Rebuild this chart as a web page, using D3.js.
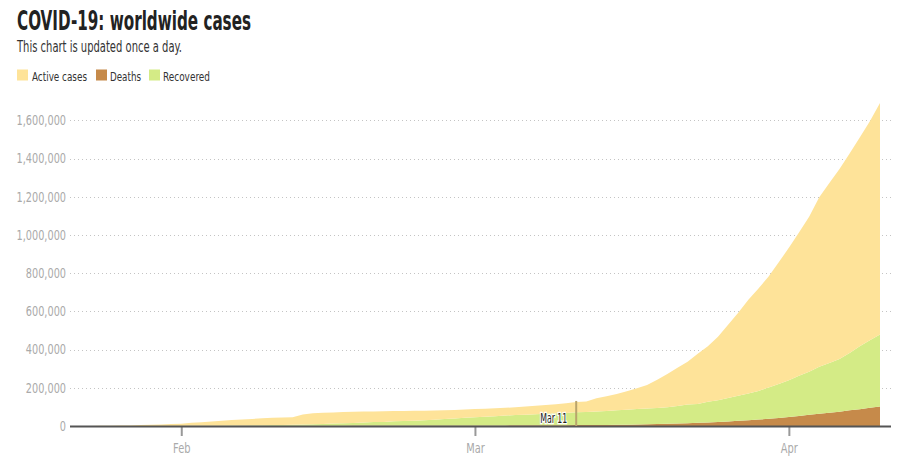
<!DOCTYPE html>
<html>
<head>
<meta charset="utf-8">
<script src="https://cdn.jsdelivr.net/npm/d3@7"></script>
<style>
  html, body { margin: 0; padding: 0; background: #fff; }
  svg { display: block; }
  .narrow { font-family: "Liberation Sans Narrow", "DejaVu Sans Condensed", "Roboto", sans-serif; }
</style>
</head>
<body>
<svg id="chart" width="910" height="464"></svg>
<script>
// ---------- data (JHU global totals, daily) ----------
const startDate = new Date(2020, 0, 22);
const endDate = new Date(2020, 3, 10);
const dates = d3.timeDay.range(startDate, d3.timeDay.offset(endDate, 1));

const confirmed = [555, 654, 941, 1434, 2118, 2927, 5578, 6166, 8234, 9927,
  12038, 16787, 19887, 23898, 27643, 30802, 34395, 37129, 40160, 42762,
  44802, 45221, 60368, 66885, 69030, 71224, 73258, 75136, 75639, 76197,
  76819, 78572, 78958, 79561, 80406, 81388, 82746, 84112, 86011,
  88369, 90306, 92840, 95120, 97886, 101801, 105847, 109821, 113590, 118620,
  125875, 128352, 145205, 156101, 167454, 181574, 197102, 214821, 242570, 272208,
  304507, 336953, 378235, 418045, 467653, 529591, 593291, 660706, 720117, 782365,
  857487, 932605, 1013157, 1095917, 1197405, 1272115, 1345101, 1426096, 1511104, 1595350,
  1691719];
const deaths = [17, 18, 26, 42, 56, 82, 131, 133, 171, 213,
  259, 362, 426, 492, 564, 634, 719, 806, 906, 1013,
  1113, 1118, 1371, 1523, 1666, 1770, 1868, 2007, 2122, 2247,
  2251, 2458, 2469, 2629, 2708, 2770, 2814, 2872, 2941,
  2996, 3085, 3160, 3254, 3348, 3460, 3558, 3802, 3988, 4262,
  4615, 4720, 5404, 5819, 6440, 7126, 7905, 8733, 9867, 11299,
  12973, 14651, 16505, 18625, 21181, 23970, 27198, 30652, 33925, 37582,
  42107, 46809, 52983, 58787, 64606, 69374, 74565, 81865, 88338, 95455,
  102525];
const recovered = [28, 30, 36, 39, 52, 61, 107, 126, 143, 222,
  284, 472, 623, 852, 1124, 1487, 2011, 2616, 3244, 3946,
  4683, 5150, 6295, 8058, 9395, 10865, 12583, 14352, 16121, 18177,
  18890, 22886, 23394, 25227, 27905, 30384, 33277, 36711, 39782,
  42716, 45602, 48228, 51170, 53796, 55865, 58358, 60694, 62494, 64404,
  67003, 68324, 70251, 72624, 76034, 78088, 80840, 83207, 84854, 87256,
  91499, 97885, 98341, 107890, 113604, 122150, 130915, 139415, 149082, 164566,
  178034, 193177, 210263, 225796, 246152, 260012, 276515, 300054, 328661, 353975,
  376096];

const seriesKeys = ["deaths", "recovered", "active"];
const seriesLabels = {active: "Active cases", deaths: "Deaths", recovered: "Recovered"};
const legendOrder = ["active", "deaths", "recovered"];
const yTicks = [0, 200000, 400000, 600000, 800000, 1000000, 1200000, 1400000, 1600000];
const xTicks = [new Date(2020, 1, 1), new Date(2020, 2, 1), new Date(2020, 3, 1)];
const markerDate = new Date(2020, 2, 11);
const markerLabel = "Mar 11";

const colors = {active: "#fee399", deaths: "#c68a4a", recovered: "#d4eb86"};

const table = dates.map((d, i) => ({
  date: d,
  deaths: deaths[i],
  recovered: recovered[i],
  active: confirmed[i] - deaths[i] - recovered[i]
}));

const FONT = "'Liberation Sans Narrow', 'DejaVu Sans Condensed', sans-serif";
function squeeze(sel, factor) {
  sel.each(function () {
    const w = this.getComputedTextLength();
    d3.select(this).attr("textLength", w * factor).attr("lengthAdjust", "spacingAndGlyphs");
  });
}

// ---------- scales ----------
const svg = d3.select("#chart");
const x = d3.scaleTime().domain([startDate, endDate]).range([80, 880]);
const y = d3.scaleLinear().domain([0, 1600000]).range([426, 120.4]);
const plotLeft = 70, plotRight = 892;

// ---------- title ----------
svg.append("text").attr("class", "narrow")
  .attr("x", 17).attr("y", 29.5)
  .attr("font-size", 27).attr("font-weight", "bold").attr("fill", "#222")
  .attr("textLength", 234).attr("lengthAdjust", "spacingAndGlyphs")
  .text("COVID-19: worldwide cases");
svg.append("text").attr("class", "narrow")
  .attr("x", 17).attr("y", 52)
  .attr("font-size", 15).attr("fill", "#333")
  .attr("textLength", 165).attr("lengthAdjust", "spacingAndGlyphs")
  .text("This chart is updated once a day.");

// ---------- legend ----------
const legendX = {active: [17, 32, 55], deaths: [96, 110, 31], recovered: [149, 163, 47]};
legendOrder.forEach(k => {
  const [sx, tx, tw] = legendX[k];
  svg.append("rect").attr("x", sx).attr("y", 69.5).attr("width", 11).attr("height", 11)
    .attr("fill", colors[k]);
  svg.append("text").attr("class", "narrow")
    .attr("x", tx).attr("y", 80.5).attr("font-size", 13).attr("fill", "#333")
    .attr("textLength", tw).attr("lengthAdjust", "spacingAndGlyphs")
    .text(seriesLabels[k]);
});

// ---------- grid ----------
svg.append("g").selectAll("line").data(yTicks.filter(v => v > 0)).join("line")
  .attr("x1", plotLeft).attr("x2", plotRight)
  .attr("y1", d => Math.round(y(d)) + 0.5).attr("y2", d => Math.round(y(d)) + 0.5)
  .attr("stroke", "#c4c4c4").attr("stroke-width", 1).attr("stroke-dasharray", "1,3");

// ---------- y axis ----------
const yAxis = svg.append("g")
  .attr("transform", `translate(${plotLeft},0)`)
  .call(d3.axisLeft(y).tickValues(yTicks).tickFormat(d3.format(",")).tickSize(0).tickPadding(4));
yAxis.select(".domain").remove();
yAxis.selectAll("text").attr("font-size", 13.5).attr("fill", "#aaa").attr("font-family", FONT)
  .call(squeeze, 0.8);

// ---------- stacked areas ----------
const stack = d3.stack().keys(seriesKeys);
const layers = stack(table);
const area = d3.area()
  .x(d => x(d.data.date))
  .y0(d => y(d[0]))
  .y1(d => y(d[1]));
svg.append("g").selectAll("path").data(layers).join("path")
  .attr("d", area)
  .attr("fill", d => colors[d.key]);

// ---------- x axis ----------
const xAxis = svg.append("g")
  .attr("transform", "translate(0,427)")
  .call(d3.axisBottom(x).tickValues(xTicks).tickFormat(d3.timeFormat("%b")).tickSize(9).tickPadding(7));
xAxis.select(".domain").remove();
xAxis.selectAll(".tick line").attr("stroke", "#999").attr("stroke-width", 2);
xAxis.selectAll("text").attr("font-size", 14).attr("fill", "#aaa").attr("font-family", FONT)
  .call(squeeze, 0.78);

// baseline
svg.append("line")
  .attr("x1", plotLeft).attr("x2", 891)
  .attr("y1", y(0) + 0.5).attr("y2", y(0) + 0.5)
  .attr("stroke", "#555").attr("stroke-width", 2);

// ---------- Mar 11 marker ----------
const mi = dates.findIndex(d => +d === +markerDate);
const mx = x(markerDate);
svg.append("line")
  .attr("x1", mx).attr("x2", mx)
  .attr("y1", y(confirmed[mi]) - 1).attr("y2", y(0))
  .attr("stroke", "#b9a46c").attr("stroke-width", 2);
svg.append("text")
  .attr("x", mx - 9).attr("y", 423)
  .attr("text-anchor", "end").attr("font-size", 14).attr("fill", "#222").attr("font-family", FONT)
  .attr("stroke", "#fff").attr("stroke-width", 2.5).attr("paint-order", "stroke")
  .attr("textLength", 27).attr("lengthAdjust", "spacingAndGlyphs")
  .text(markerLabel);
</script>
</body>
</html>
